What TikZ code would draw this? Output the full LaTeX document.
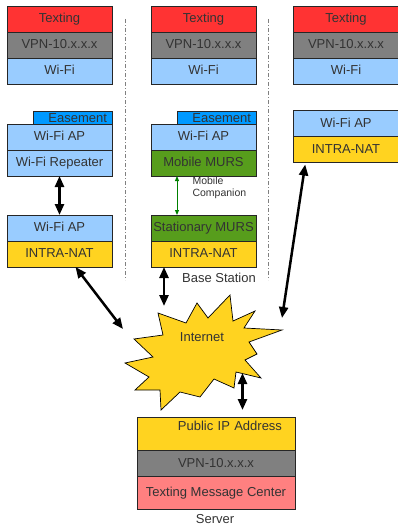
\documentclass[tikz,border=0pt]{standalone}
\usepackage{fontspec}
\setmainfont{Liberation Sans}
\usetikzlibrary{arrows,arrows.meta,positioning}
\definecolor{txred}{HTML}{FF3333}
\definecolor{vpngray}{HTML}{808080}
\definecolor{wifiblue}{HTML}{99CCFF}
\definecolor{easeblue}{HTML}{0099FF}
\definecolor{mursgreen}{HTML}{579D1C}
\definecolor{natyellow}{HTML}{FFD320}
\definecolor{tmcpink}{HTML}{FF8080}
\definecolor{txtgray}{HTML}{333333}
\begin{document}
\begin{tikzpicture}[x=1pt,y=-1pt,node distance=0pt,>={Triangle[length=11pt,width=9pt]},
    font=\fontsize{13}{15}\selectfont,text=txtgray]
  \tikzstyle{layer}=[rectangle,draw=black!85,line width=0.7pt,outer sep=0pt,inner sep=2pt,
    minimum width=105pt,minimum height=26pt,text height=9.5pt,text depth=2.5pt]
  \tikzstyle{tab}=[layer,fill=easeblue,minimum width=79pt,minimum height=13pt,inner ysep=0pt,
    inner xsep=5pt,text width=69pt,align=right,text height=9.5pt,text depth=0pt,anchor=south east]
  \tikzstyle{srv}=[layer,minimum width=158pt]
  \tikzstyle{link}=[<->,line width=2.5pt]
  \tikzstyle{sep}=[gray,line width=0.9pt,dash pattern=on 4pt off 2pt on 1pt off 2pt]
  \useasboundingbox (0,0) rectangle (398,527);

  % mobile devices
  \node[layer,fill=txred] (tx1) at (59.5,19) {Texting};
  \node[layer,fill=vpngray,below=of tx1] (vpn1) {VPN-10.x.x.x};
  \node[layer,fill=wifiblue,below=of vpn1] (wifi1) {Wi-Fi};
  \node[layer,fill=txred] (tx2) at (203.5,19) {Texting};
  \node[layer,fill=vpngray,below=of tx2] (vpn2) {VPN-10.x.x.x};
  \node[layer,fill=wifiblue,below=of vpn2] (wifi2) {Wi-Fi};
  \node[layer,fill=txred] (tx3) at (346,19) {Texting};
  \node[layer,fill=vpngray,below=of tx3] (vpn3) {VPN-10.x.x.x};
  \node[layer,fill=wifiblue,below=of vpn3] (wifi3) {Wi-Fi};

  % access points
  \node[layer,fill=wifiblue] (ap1) at (59.5,137) {Wi-Fi AP};
  \node[layer,fill=wifiblue,below=of ap1] (rep1) {Wi-Fi Repeater};
  \node[tab] (ease1) at (ap1.north east) {Easement};
  \node[layer,fill=wifiblue] (apb1) at (59.5,228) {Wi-Fi AP};
  \node[layer,fill=natyellow,below=of apb1] (nat1) {INTRA-NAT};

  \node[layer,fill=wifiblue] (ap2) at (203.5,137) {Wi-Fi AP};
  \node[layer,fill=mursgreen,below=of ap2] (murs2) {Mobile MURS};
  \node[tab] (ease2) at (ap2.north east) {Easement};
  \node[layer,fill=mursgreen] (smurs2) at (203.5,228) {Stationary MURS};
  \node[layer,fill=natyellow,below=of smurs2] (nat2) {INTRA-NAT};
  \node[anchor=west,align=left,font=\fontsize{10.5}{11.6}\selectfont] (comp) at (189,187.5) {Mobile\\Companion};
  \node (base) at (219,277.5) {Base Station};

  \node[layer,fill=wifiblue] (ap3) at (346,123.5) {Wi-Fi AP};
  \node[layer,fill=natyellow,below=of ap3] (nat3) {INTRA-NAT};

  \draw[sep] (125,19) -- (125,280);
  \draw[sep] (268,19) -- (268,280);

  % internet
  \draw[fill=natyellow,draw=black,line width=0.7pt] (158,313) -- (186,323) -- (197,303) -- (208,318)
    -- (230,295) -- (233,321) -- (255,311) -- (244,328) -- (282,330) -- (249,342) -- (257,354)
    -- (245,360) -- (261,378) -- (236,372) -- (234,388) -- (214,379) -- (200,397) -- (180,392)
    -- (161,410) -- (160,390) -- (135,390) -- (149,377) -- (125,363) -- (153,357) -- (134,339)
    -- (163,335) -- cycle;
  \node (net) at (202,337) {Internet};
  \coordinate (netw) at (123,329);
  \coordinate (netn) at (164,306);
  \coordinate (nete) at (282,318);
  \coordinate (nets) at (242.5,373);

  % server
  \node[srv,fill=natyellow,minimum height=33.5pt,text depth=15.5pt,inner xsep=13pt,text width=132pt,align=right] (pub) at (216,433.75) {Public IP Address};
  \node[srv,fill=vpngray,below=of pub] (vpns) {VPN-10.x.x.x};
  \node[srv,fill=tmcpink,minimum height=32.5pt,below=of vpns] (tmc) {Texting Message Center};
  \node (server) at (215,519) {Server};

  \draw[link] (rep1) -- (apb1);
  \draw[link] ([xshift=16pt]nat1.south) -- (netw);
  \draw[link] ([xshift=13pt]nat2.south west) -- (netn);
  \draw[link,shorten <=2pt] ([xshift=12pt]nat3.south west) -- (nete);
  \draw[link,shorten >=7pt] (nets) -- ([xshift=26.5pt]pub.north);
  \draw[<->,>={Triangle[length=5pt,width=4pt]},green!50!black,line width=1pt]
    ([xshift=26pt]murs2.south west) -- ([xshift=26pt]smurs2.north west);
\end{tikzpicture}
\end{document}
